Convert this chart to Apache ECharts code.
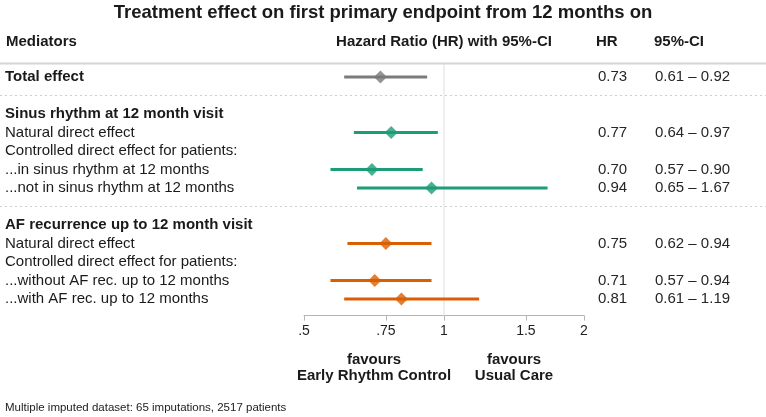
<!DOCTYPE html>
<html>
<head>
<meta charset="utf-8">
<script src="https://cdn.jsdelivr.net/npm/echarts@6/dist/echarts.min.js"></script>
<style>html,body{margin:0;padding:0;background:#fff}#c{width:766px;height:417px}</style>
</head>
<body>
<div id="c"></div>
<script>
// ---- data ----
const title = 'Treatment effect on first primary endpoint from 12 months on';
const rowLabels = [
  'Total effect', '',
  'Sinus rhythm at 12 month visit', 'Natural direct effect', 'Controlled direct effect for patients:',
  '...in sinus rhythm at 12 months', '...not in sinus rhythm at 12 months', '',
  'AF recurrence up to 12 month visit', 'Natural direct effect', 'Controlled direct effect for patients:',
  '...without AF rec. up to 12 months', '...with AF rec. up to 12 months'
];
const boldRows = [0, 2, 8];
const separatorRows = [1, 7];
const estRows = [0, 3, 5, 6, 9, 11, 12];
const hr    = [0.73, 0.77, 0.70, 0.94, 0.75, 0.71, 0.81];
const lower = [0.61, 0.64, 0.57, 0.65, 0.62, 0.57, 0.61];
const upper = [0.92, 0.97, 0.90, 1.67, 0.94, 0.94, 1.19];
const groups = ['total', 'sinus', 'sinus', 'sinus', 'af', 'af', 'af'];
const groupColors = { total: '#7b7b7b', sinus: '#1b9e77', af: '#d95f02' };
const tickValues = [0.5, 0.75, 1, 1.5, 2];
const tickLabels = ['.5', '.75', '1', '1.5', '2'];
const footer = 'Multiple imputed dataset: 65 imputations, 2517 patients';

const FONT = '"Liberation Sans", Arial, Helvetica, sans-serif';
const L2 = v => Math.log2(v);
const fmt = v => v.toFixed(2);

const chart = echarts.init(document.getElementById('c'), null, { renderer: 'canvas' });

const ciData = estRows.map((r, i) => ({ value: [L2(lower[i]), L2(upper[i]), r], itemStyle: { color: groupColors[groups[i]] } }));
const ptData = estRows.map((r, i) => ({ value: [L2(hr[i]), r], itemStyle: { color: groupColors[groups[i]] } }));

chart.setOption({
  animation: false,
  grid: { left: 304, right: 182, top: 58.5, bottom: 101.35 },
  xAxis: {
    type: 'value', min: -1, max: 1, position: 'bottom',
    axisLine: { show: true, onZero: false, lineStyle: { color: '#b5b5b5', width: 1 } },
    axisTick: { show: true, length: 5, lineStyle: { color: '#b5b5b5' }, customValues: tickValues.map(L2) },
    axisLabel: {
      customValues: tickValues.map(L2), margin: 8, color: '#222', fontSize: 14, fontFamily: FONT,
      formatter: v => {
        let best = 0, d = 1e9;
        tickValues.forEach((t, i) => { const dd = Math.abs(L2(t) - v); if (dd < d) { d = dd; best = i; } });
        return tickLabels[best];
      }
    },
    splitLine: { show: false }
  },
  yAxis: { type: 'value', inverse: true, min: -1, max: 12.9, show: false },
  series: [
    {
      type: 'line', data: [[0, -0.73], [0, 12.9]], symbol: 'none', silent: true, z: 1,
      lineStyle: { color: '#dedede', width: 1 }
    },
    {
      type: 'custom', z: 2,
      renderItem: (params, api) => {
        const a = api.coord([api.value(0), api.value(2)]);
        const b = api.coord([api.value(1), api.value(2)]);
        return { type: 'line', shape: { x1: a[0], y1: a[1], x2: b[0], y2: b[1] }, style: { stroke: api.visual('color'), lineWidth: 3 } };
      },
      encode: { x: [0, 1], y: 2 },
      data: ciData, clip: false
    },
    {
      type: 'scatter', symbol: 'diamond', symbolSize: [13, 13], z: 3, data: ptData, clip: false
    }
  ]
});

function y(row) { return chart.convertToPixel({ gridIndex: 0 }, [0, row])[1]; }
function x(v) { return chart.convertToPixel({ gridIndex: 0 }, [v, 0])[0]; }

const g = [];
const txt = (t, px, py, opts) => g.push({
  type: 'text', silent: true,
  style: Object.assign({ text: t, x: px, y: py, fill: '#1a1a1a', font: '15px ' + FONT, textAlign: 'left', textVerticalAlign: 'middle' }, opts || {})
});
// title and headers
txt(title, 383, 13, { font: 'bold 18.5px ' + FONT, textAlign: 'center' });
const hy = 42;
txt('Mediators', 6, hy, { font: 'bold 15px ' + FONT });
txt('Hazard Ratio (HR) with 95%-CI', x(0), hy, { font: 'bold 15px ' + FONT, textAlign: 'center' });
txt('HR', 596, hy, { font: 'bold 15px ' + FONT });
txt('95%-CI', 654, hy, { font: 'bold 15px ' + FONT });
// header rule
g.push({ type: 'line', silent: true, shape: { x1: 0, y1: y(-0.73), x2: 766, y2: y(-0.73) }, style: { stroke: '#d4d4d4', lineWidth: 2 } });
// dotted separators
separatorRows.forEach(r => g.push({ type: 'line', silent: true, shape: { x1: 0, y1: y(r), x2: 766, y2: y(r) }, style: { stroke: '#cfcfcf', lineWidth: 1, lineDash: [2, 3] } }));
// row labels
rowLabels.forEach((t, r) => {
  if (!t) return;
  txt(t, 5, y(r), boldRows.includes(r) ? { font: 'bold 15px ' + FONT } : {});
});
// HR and CI columns
estRows.forEach((r, i) => {
  txt(fmt(hr[i]), 598, y(r), { fill: '#262626' });
  txt(fmt(lower[i]) + ' \u2013 ' + fmt(upper[i]), 655, y(r), { fill: '#262626' });
});
// favours
txt('favours\nEarly Rhythm Control', x(-0.5), 368, { font: 'bold 15px ' + FONT, textAlign: 'center', lineHeight: 16 });
txt('favours\nUsual Care', x(0.5), 368, { font: 'bold 15px ' + FONT, textAlign: 'center', lineHeight: 16 });
// footer
txt(footer, 5, 408, { font: '11.5px ' + FONT, fill: '#222' });

chart.setOption({ graphic: { elements: g } });
</script>
</body>
</html>
